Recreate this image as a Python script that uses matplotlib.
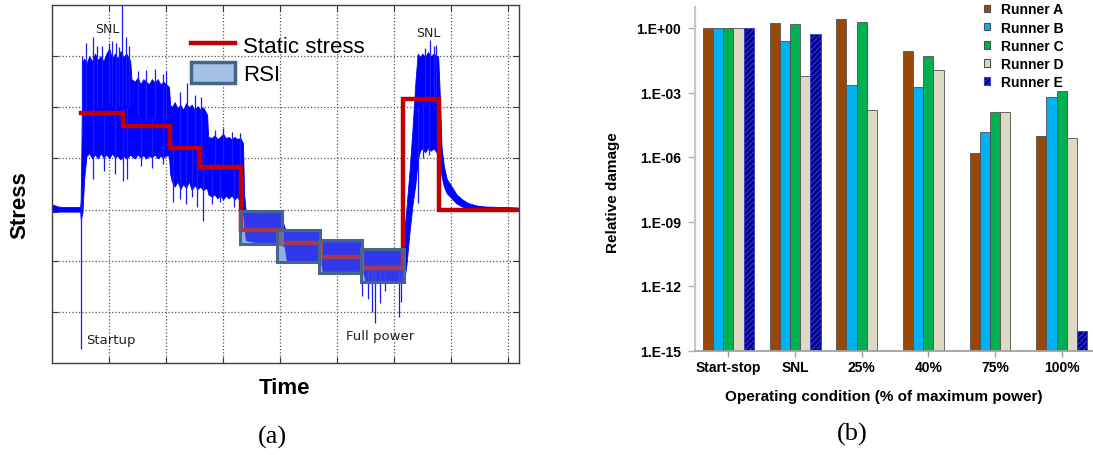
import numpy as np
import matplotlib
matplotlib.use('Agg')
import matplotlib.pyplot as plt
from matplotlib.patches import Patch, Rectangle
from matplotlib.lines import Line2D

# ---------------- Panel (a) data: stress signal (envelope) ----------------
sig_x = [0.00, 0.05, 0.10, 0.20, 0.30, 0.40, 0.49, 0.50, 0.53, 0.56, 0.60, 0.65, 0.70, 0.75, 0.80,
         0.85, 0.90, 0.95, 1.00, 1.05, 1.10, 1.15, 1.20, 1.25, 1.30, 1.35, 1.37,
         1.39, 1.45, 1.50, 1.55, 1.60, 1.65, 1.70, 1.75, 1.80, 1.85, 1.90, 1.95, 2.00, 2.05,
         2.07, 2.10, 2.15, 2.20, 2.25, 2.30, 2.35, 2.40, 2.45, 2.50, 2.55, 2.60, 2.65, 2.70, 2.72,
         2.74, 2.80, 2.85, 2.90, 2.95, 3.00, 3.05, 3.10, 3.15, 3.20, 3.25, 3.30, 3.35,
         3.37, 3.40, 3.60, 3.80, 4.00, 4.04, 4.08, 4.12, 4.30, 4.50, 4.70, 4.72, 4.75, 5.00,
         5.20, 5.45, 5.47, 5.50, 5.80, 6.15, 6.18, 6.22, 6.28, 6.33, 6.38, 6.42, 6.46, 6.50,
         6.55, 6.60, 6.65, 6.70, 6.75, 6.78, 6.81, 6.84, 6.88, 6.93, 7.00, 7.10, 7.20, 7.30,
         7.45, 7.60, 7.90, 8.18]
sig_hi = [0.10, 0.08, 0.06, 0.05, 0.05, 0.05, 0.05, 0.20, 2.90, 2.95, 2.85, 3.00, 2.90, 3.05, 2.92,
          3.00, 2.90, 3.05, 3.15, 2.95, 3.05, 2.95, 3.10, 2.98, 3.05, 2.95, 2.90,
          2.55, 2.50, 2.58, 2.45, 2.55, 2.50, 2.45, 2.55, 2.48, 2.55, 2.45, 2.50, 2.45, 2.40,
          2.05, 2.00, 2.10, 1.98, 2.05, 1.95, 2.08, 2.00, 2.05, 1.95, 2.02, 1.96, 2.00, 1.90, 1.85,
          1.42, 1.40, 1.45, 1.38, 1.42, 1.48, 1.40, 1.42, 1.37, 1.42, 1.38, 1.40, 1.30,
          0.30, -0.05, -0.06, -0.06, -0.06, -0.20, -0.35, -0.43, -0.43, -0.43, -0.43, -0.62, -0.63, -0.63,
          -0.63, -0.63, -0.80, -0.80, -0.80, -0.80, -0.50, 0.00, 0.80, 1.60, 2.50, 3.05, 2.98, 3.05,
          2.98, 3.08, 3.00, 3.05, 3.00, 3.00, 2.20, 1.20, 0.85, 0.60, 0.48, 0.30, 0.20, 0.13,
          0.08, 0.06, 0.05, 0.04]
sig_lo = [-0.05, -0.05, -0.04, -0.04, -0.04, -0.04, -0.04, -0.20, -0.05, 0.60, 1.05, 1.10, 1.00, 1.08, 1.00,
          1.10, 1.02, 1.08, 1.00, 1.10, 1.02, 1.05, 0.98, 1.05, 1.00, 1.05, 1.08,
          1.05, 1.00, 1.08, 1.02, 1.06, 1.00, 1.05, 1.02, 1.08, 1.00, 1.05, 1.02, 1.06, 1.05,
          0.70, 0.55, 0.45, 0.55, 0.40, 0.50, 0.42, 0.55, 0.38, 0.48, 0.40, 0.45, 0.38, 0.42, 0.40,
          0.30, 0.25, 0.30, 0.22, 0.28, 0.20, 0.27, 0.22, 0.28, 0.20, 0.25, 0.15, -0.05,
          -0.30, -0.60, -0.64, -0.64, -0.64, -0.70, -0.72, -1.00, -1.00, -1.00, -1.00, -1.02, -1.20, -1.20,
          -1.20, -1.20, -1.25, -1.39, -1.39, -1.39, -1.40, -1.10, -0.40, 0.10, 0.50, 0.95, 1.15, 1.20,
          1.12, 1.20, 1.15, 1.20, 1.12, 1.10, 0.90, 0.65, 0.45, 0.32, 0.24, 0.12, 0.06, 0.02,
          -0.01, -0.03, -0.03, -0.03]
spike_up_x = [0.53, 0.60, 0.71, 0.78, 0.88, 1.00, 1.05, 1.12, 1.18, 1.22, 1.30, 1.35,
              1.50, 1.65, 1.80, 1.95, 2.00,
              2.25, 2.36, 2.50, 2.62,
              2.85, 3.00, 3.15, 3.30,
              6.55, 6.63, 6.70, 6.75]
spike_up_y = [3.00, 3.25, 3.38, 3.20, 3.20, 3.26, 3.30, 3.25, 3.18, 4.00, 3.38, 3.20,
              2.70, 2.72, 2.75, 2.65, 2.70,
              2.30, 2.48, 2.25, 2.20,
              1.55, 1.60, 1.52, 1.50,
              3.15, 3.31, 3.20, 3.22]
spike_dn_x = [0.51, 0.72, 0.90, 1.10, 1.25, 1.32,
              1.55, 1.75, 1.95,
              2.12, 2.24, 2.35, 2.45, 2.55, 2.64,
              2.80, 2.95, 3.20, 3.30,
              5.45, 5.55, 5.61, 5.67, 5.76, 5.85, 6.10, 6.13,
              6.43, 6.51, 6.61]
spike_dn_y = [-2.73, 0.60, 0.75, 0.70, 0.55, 0.60,
              0.85, 0.82, 0.90,
              0.15, 0.20, 0.10, 0.25, 0.05, -0.22,
              0.10, 0.15, 0.05, 0.00,
              -1.69, -1.75, -2.01, -2.21, -1.82, -1.60, -2.11, -1.80,
              0.13, 1.00, 1.07]
stat_edges = [0.51, 1.24, 2.06, 2.59, 3.31, 4.00, 4.72, 5.44, 6.16, 6.80, 8.15]
stat_levels = [1.88, 1.63, 1.20, 0.84, -0.39, -0.65, -0.92, -1.14, 2.16, 0.00]
rsi_x0 = [3.30, 3.95, 4.69, 5.43]
rsi_x1 = [4.04, 4.70, 5.45, 6.18]
rsi_y0 = [-0.67, -1.03, -1.24, -1.42]
rsi_y1 = [-0.02, -0.40, -0.59, -0.77]

# ---------------- Panel (b) data ----------------
conditions = ['Start-stop', 'SNL', '25%', '40%', '75%', '100%']
runner_names = ['Runner A', 'Runner B', 'Runner C', 'Runner D', 'Runner E']
runner_a = [1.0, 1.71, 2.6, 0.085, 1.56e-6, 1.0e-5]
runner_b = [1.0, 0.24, 2.3e-3, 1.9e-3, 1.48e-5, 5.9e-4]
runner_c = [1.0, 1.48, 2.0, 0.051, 1.18e-4, 1.2e-3]
runner_d = [1.0, 6.0e-3, 1.6e-4, 0.0114, 1.26e-4, 7.8e-6]
runner_e = [1.0, 0.54, np.nan, np.nan, np.nan, 7.9e-15]
runner_colors = ['#984807', '#00b0f0', '#00b050', '#ddd9c3', '#000090']

W, H = 1093, 456
fig = plt.figure(figsize=(W / 100, H / 100), dpi=100)
plt.rcParams['hatch.linewidth'] = 0.7

# ================= Panel (a) =================
axa = fig.add_axes([52.3 / W, 1 - 364 / H, (519 - 52.3) / W, (364 - 6) / H])
axa.set_xlim(0, 8.2)
axa.set_ylim(-3, 4)
axa.set_xticks(range(1, 9))
axa.set_yticks(range(-2, 4))
axa.tick_params(direction='in', length=4, width=0.8, color='#333333',
                top=True, right=True, labelbottom=False, labelleft=False)
axa.grid(True, color='#555555', linestyle=':', linewidth=0.9)
axa.set_axisbelow(True)
for s in axa.spines.values():
    s.set_color('#404040')
    s.set_linewidth(1.0)

# RSI underlay
for x0, x1, y0, y1 in zip(rsi_x0, rsi_x1, rsi_y0, rsi_y1):
    axa.add_patch(Rectangle((x0, y0), x1 - x0, y1 - y0, facecolor='#a6c1e6',
                            edgecolor='none', zorder=1.5))
# Signal
sx = np.array(sig_x)
mid = (np.array(sig_hi) + np.array(sig_lo)) / 2
axa.fill_between(sx, sig_lo, sig_hi, color='#0000ff', linewidth=0.6, edgecolor='#0000ff', zorder=2)
axa.vlines(spike_up_x, np.interp(spike_up_x, sx, mid), spike_up_y, color='#1a1aff', linewidth=0.9, zorder=2)
axa.vlines(spike_dn_x, np.interp(spike_dn_x, sx, mid), spike_dn_y, color='#1a1aff', linewidth=0.9, zorder=2)
# Static stress
axa.step(stat_edges, stat_levels + [stat_levels[-1]], where='post', color='#c00000',
         linewidth=3.2, zorder=3, solid_joinstyle='miter')
# RSI overlay
for x0, x1, y0, y1 in zip(rsi_x0, rsi_x1, rsi_y0, rsi_y1):
    axa.add_patch(Rectangle((x0, y0), x1 - x0, y1 - y0, facecolor=(0.50, 0.58, 0.80, 0.38),
                            edgecolor='#46658a', linewidth=2.2, zorder=4))

txt_kw = dict(fontfamily='DejaVu Sans', fontsize=9, color='#222222')
axa.text(0.96, 3.54, 'SNL', ha='center', va='center', **txt_kw)
axa.text(6.60, 3.46, 'SNL', ha='center', va='center', **txt_kw)
axa.text(0.60, -2.54, 'Startup', ha='left', va='center', **dict(txt_kw, fontsize=9.5))
axa.text(5.16, -2.47, 'Full power', ha='left', va='center', **dict(txt_kw, fontsize=9.5))

axa.set_xlabel('Time', fontfamily='Liberation Sans', fontweight='bold', fontsize=16)
axa.xaxis.set_label_coords((284.5 - 52.3) / (519 - 52.3), (364 - 388) / 358)
axa.xaxis.label.set_va('center')
axa.set_ylabel('Stress', fontfamily='Liberation Sans', fontweight='bold', fontsize=16)
axa.yaxis.set_label_coords((19.7 - 52.3) / (519 - 52.3), (364 - 205) / 358)
axa.yaxis.label.set_va('center')

leg_a = axa.legend(handles=[Line2D([], [], color='#c00000', linewidth=3.2),
                            Patch(facecolor='#a6c1e6', edgecolor='#46658a', linewidth=2.5)],
                   labels=['Static stress', 'RSI'],
                   loc='upper left', bbox_to_anchor=(191 / W, 1 - 35 / H),
                   bbox_transform=fig.transFigure, frameon=False, borderpad=0,
                   borderaxespad=0, handlelength=2.0, handleheight=1.05,
                   handletextpad=0.35, labelspacing=0.25,
                   prop=dict(family='Liberation Sans', size=16))
leg_a.set_zorder(6)

# ================= Panel (b) =================
axb = fig.add_axes([695 / W, 1 - 351.5 / H, (W - 695) / W, (351.5 - 7.5) / H])
axb.set_yscale('log')
axb.set_ylim(1e-15, 1e1)
axb.set_xlim(-0.5, 5.47)
bw = 0.153
xpos = np.arange(len(conditions))
series = [runner_a, runner_b, runner_c, runner_d, runner_e]
handles = []
for i, (vals, col, name) in enumerate(zip(series, runner_colors, runner_names)):
    v = np.array(vals, dtype=float)
    ok = ~np.isnan(v)
    kw = dict(color=col, edgecolor='#505050', linewidth=0.6)
    if i == 4:
        kw = dict(color=col, edgecolor='#3c3cd0', linewidth=0.6, hatch='//////')
    axb.bar(xpos[ok] + (i - 2) * bw, v[ok], width=bw, zorder=2, **kw)
    handles.append(Patch(facecolor=col, edgecolor=kw['edgecolor'], linewidth=0.8,
                         hatch=kw.get('hatch')))

axb.set_yticks([1e0, 1e-3, 1e-6, 1e-9, 1e-12, 1e-15])
axb.set_yticklabels(['1.E+00', '1.E-03', '1.E-06', '1.E-09', '1.E-12', '1.E-15'])
axb.yaxis.set_minor_locator(matplotlib.ticker.NullLocator())
axb.set_xticks(xpos)
axb.set_xticklabels(conditions)
for lab in axb.get_xticklabels() + axb.get_yticklabels():
    lab.set_fontfamily('Liberation Sans')
    lab.set_fontweight('bold')
    lab.set_fontsize(10)
axb.tick_params(axis='y', length=5, width=1, color='#b0b0b0', pad=5)
axb.tick_params(axis='x', length=4, width=1, color='#a0a0a0', pad=3)
axb.spines['top'].set_visible(False)
axb.spines['right'].set_visible(False)
axb.spines['left'].set_color('#c8c8c8')
axb.spines['left'].set_linewidth(1.6)
axb.spines['bottom'].set_color('#a0a0a0')
axb.spines['bottom'].set_linewidth(1.3)

axb.set_xlabel('Operating condition (% of maximum power)', fontfamily='Liberation Sans',
               fontweight='bold', fontsize=11)
axb.xaxis.set_label_coords((883.7 - 695) / (W - 695), (351.5 - 396.7) / 344)
axb.xaxis.label.set_va('center')
axb.set_ylabel('Relative damage', fontfamily='Liberation Sans', fontweight='bold', fontsize=11)
axb.yaxis.set_label_coords((612.5 - 695) / (W - 695), (351.5 - 192.5) / 344)
axb.yaxis.label.set_va('center')

axb.legend(handles=handles, labels=runner_names, loc='upper left',
           bbox_to_anchor=(984 / W, 1 - 3.5 / H), bbox_transform=fig.transFigure,
           frameon=False, borderpad=0, borderaxespad=0, handlelength=0.45,
           handleheight=0.45, handletextpad=0.75, labelspacing=0.3,
           prop=dict(family='Liberation Sans', weight='bold', size=10))

fig.text(272.7 / W, 1 - 437 / H, '(a)', ha='center', va='center',
         fontfamily='Liberation Serif', fontsize=19)
fig.text(852 / W, 1 - 434 / H, '(b)', ha='center', va='center',
         fontfamily='Liberation Serif', fontsize=19)

fig.savefig('out.png', dpi=100)
